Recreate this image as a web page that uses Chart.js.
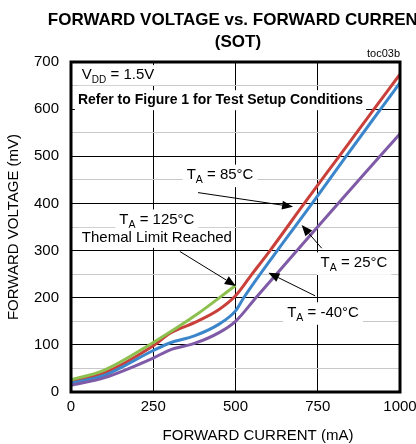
<!DOCTYPE html>
<html>
<head>
<meta charset="utf-8">
<script src="https://cdn.jsdelivr.net/npm/chart.js@4"></script>
<style>
  html, body { margin: 0; padding: 0; background: #fff; }
  #wrap { width: 416px; height: 444px; }
</style>
</head>
<body>
<div id="wrap"><canvas id="chart" width="416" height="444"></canvas></div>
<script>
// --- data (mA vs mV) ---
const yTicks = [0, 100, 200, 300, 400, 500, 600, 700];
const xTicks = [0, 250, 500, 750, 1000];

const current125 = [0, 100, 250, 375, 500];
const volt125    = [26, 46, 105, 161, 226];

const current85 = [0, 100, 250, 300, 375, 450, 500, 550, 605, 709, 815, 921, 1000];
const volt85    = [22, 40, 98, 124, 147, 175, 204, 250, 300, 400, 500, 600, 674];

const current25 = [0, 100, 250, 300, 375, 450, 500, 525, 627, 733, 836, 941, 1000];
const volt25    = [19, 35, 88, 104, 119, 144, 172, 200, 300, 400, 500, 600, 656];

const currentM40 = [0, 100, 250, 300, 375, 450, 500, 562, 687, 812, 939, 1000];
const voltM40    = [14, 30, 72, 89, 103, 126, 150, 200, 300, 400, 500, 548];

const FONT = "'Liberation Sans Narrow', 'Liberation Sans', Arial, sans-serif";

function pts(xs, ys) {
  return xs.map((x, i) => ({ x: x, y: ys[i] }));
}

function series(xs, ys, color) {
  return {
    data: pts(xs, ys),
    borderColor: color,
    borderWidth: 3,
    pointRadius: 0,
    fill: false,
    cubicInterpolationMode: 'monotone'
  };
}

// text with a subscript "A" after "T"
function drawTA(ctx, rest, cx, cy, size) {
  ctx.font = size + 'px ' + FONT;
  const wT = ctx.measureText('T').width;
  ctx.font = (size * 0.7) + 'px ' + FONT;
  const wA = ctx.measureText('A').width;
  ctx.font = size + 'px ' + FONT;
  const wR = ctx.measureText(rest).width;
  const total = wT + wA + wR;
  let x = cx - total / 2;
  ctx.fillStyle = '#fff';
  ctx.fillRect(x - 4, cy - size * 0.7, total + 8, size * 1.5);
  ctx.fillStyle = '#000';
  ctx.textAlign = 'left';
  ctx.textBaseline = 'middle';
  ctx.fillText('T', x, cy);
  ctx.font = (size * 0.7) + 'px ' + FONT;
  ctx.fillText('A', x + wT, cy + size * 0.35);
  ctx.font = size + 'px ' + FONT;
  ctx.fillText(rest, x + wT + wA, cy);
}

function arrow(ctx, x1, y1, x2, y2) {
  const a = Math.atan2(y2 - y1, x2 - x1);
  const len = 11, half = 4.5;
  const bx = x2 - len * Math.cos(a), by = y2 - len * Math.sin(a);
  ctx.strokeStyle = '#000';
  ctx.lineWidth = 1;
  ctx.beginPath();
  ctx.moveTo(x1, y1);
  ctx.lineTo(bx, by);
  ctx.stroke();
  ctx.fillStyle = '#000';
  ctx.beginPath();
  ctx.moveTo(x2, y2);
  ctx.lineTo(bx + half * Math.sin(a), by - half * Math.cos(a));
  ctx.lineTo(bx - half * Math.sin(a), by + half * Math.cos(a));
  ctx.closePath();
  ctx.fill();
}

const decor = {
  id: 'decor',
  afterDraw(chart) {
    const ctx = chart.ctx;
    const xs = chart.scales.x, ys = chart.scales.y;
    const X = v => xs.getPixelForValue(v);
    const Y = v => ys.getPixelForValue(v);
    const area = chart.chartArea;
    ctx.save();

    // titles
    ctx.fillStyle = '#000';
    ctx.textAlign = 'center';
    ctx.textBaseline = 'middle';
    ctx.font = 'bold 17px ' + FONT;
    ctx.fillText('FORWARD VOLTAGE vs. FORWARD CURRENT', 238, 20);
    ctx.fillText('(SOT)', 238, 42);
    ctx.font = '11px ' + FONT;
    ctx.textAlign = 'right';
    ctx.fillText('toc03b', area.right, 54);

    // x axis title
    ctx.font = '15px ' + FONT;
    ctx.textAlign = 'center';
    ctx.fillText('FORWARD CURRENT (mA)', 258, 436);

    // VDD label
    ctx.font = '15px ' + FONT;
    const w1 = ctx.measureText('V').width;
    ctx.font = '10px ' + FONT;
    const w2 = ctx.measureText('DD').width;
    ctx.font = '15px ' + FONT;
    const w3 = ctx.measureText(' = 1.5V').width;
    let vx = X(33), vy = Y(672);
    ctx.fillStyle = '#fff';
    ctx.fillRect(vx - 4, vy - 10, w1 + w2 + w3 + 8, 20);
    ctx.fillStyle = '#000';
    ctx.textAlign = 'left';
    ctx.fillText('V', vx, vy);
    ctx.font = '10px ' + FONT;
    ctx.fillText('DD', vx + w1, vy + 5);
    ctx.font = '15px ' + FONT;
    ctx.fillText(' = 1.5V', vx + w1 + w2, vy);

    // test setup note
    ctx.font = 'bold 14px ' + FONT;
    const note = 'Refer to Figure 1 for Test Setup Conditions';
    const wn = ctx.measureText(note).width;
    ctx.fillStyle = '#fff';
    ctx.fillRect(X(21) - 3, Y(619) - 10, wn + 6, 20);
    ctx.fillStyle = '#000';
    ctx.fillText(note, X(21), Y(619));

    // curve labels
    drawTA(ctx, ' = 85°C', X(453), Y(460), 15);
    drawTA(ctx, ' = 125°C', X(261), Y(365), 15);
    ctx.font = '15px ' + FONT;
    const th = 'Themal Limit Reached';
    const wt = ctx.measureText(th).width;
    ctx.fillStyle = '#fff';
    ctx.fillRect(X(261) - wt / 2 - 3, Y(327) - 10, wt + 6, 20);
    ctx.fillStyle = '#000';
    ctx.textAlign = 'center';
    ctx.fillText(th, X(261), Y(327));
    drawTA(ctx, ' = 25°C', X(860), Y(274), 15);
    drawTA(ctx, ' = -40°C', X(766), Y(168), 15);

    // arrows
    arrow(ctx, X(386), Y(423), X(675), Y(393));
    arrow(ctx, X(331), Y(298), X(501), Y(225));
    arrow(ctx, X(762), Y(305), X(701), Y(354));
    arrow(ctx, X(742), Y(204), X(600), Y(253));

    // heavy frame
    ctx.strokeStyle = '#000';
    ctx.lineWidth = 3;
    ctx.strokeRect(area.left, area.top, area.right - area.left, area.bottom - area.top);
    ctx.restore();
  }
};

new Chart(document.getElementById('chart'), {
  type: 'line',
  data: {
    datasets: [
      series(current125, volt125, '#8dc04f'),
      series(currentM40, voltM40, '#7f5aa6'),
      series(current25, volt25, '#3b86cb'),
      series(current85, volt85, '#c9403b')
    ]
  },
  options: {
    responsive: false,
    animation: false,
    layout: { padding: { top: 62, right: 16, left: 0, bottom: 0 } },
    plugins: {
      legend: { display: false },
      tooltip: { enabled: false },
      title: { display: false }
    },
    scales: {
      x: {
        type: 'linear',
        min: 0,
        max: 1000,
        afterBuildTicks: s => { s.ticks = xTicks.map(v => ({ value: v })); },
        afterFit: s => { s.height = 52; s.paddingLeft = 0; s.paddingRight = 0; },
        ticks: {
          color: '#000',
          font: { family: FONT, size: 15 },
          padding: 6,
          maxRotation: 0,
          callback: v => String(v)
        },
        grid: { color: '#000', lineWidth: 1, drawTicks: false },
        border: { display: false }
      },
      y: {
        min: 0,
        max: 700,
        afterBuildTicks: s => {
          const t = [];
          for (let v = 0; v <= 700; v += 50) t.push({ value: v });
          s.ticks = t;
        },
        afterFit: s => { s.width = 71; s.paddingTop = 0; s.paddingBottom = 0; },
        ticks: {
          color: '#000',
          font: { family: FONT, size: 15 },
          padding: 12,
          callback: v => (yTicks.includes(v) ? String(v) : '')
        },
        grid: {
          drawTicks: false,
          lineWidth: 1,
          color: c => (c.tick && c.tick.value % 100 === 0 ? '#000' : '#c8c8c8')
        },
        border: { display: false },
        title: {
          display: true,
          text: 'FORWARD VOLTAGE (mV)',
          color: '#000',
          font: { family: FONT, size: 15 },
          padding: { top: 5, bottom: 0 }
        }
      }
    }
  },
  plugins: [decor]
});
</script>
</body>
</html>
